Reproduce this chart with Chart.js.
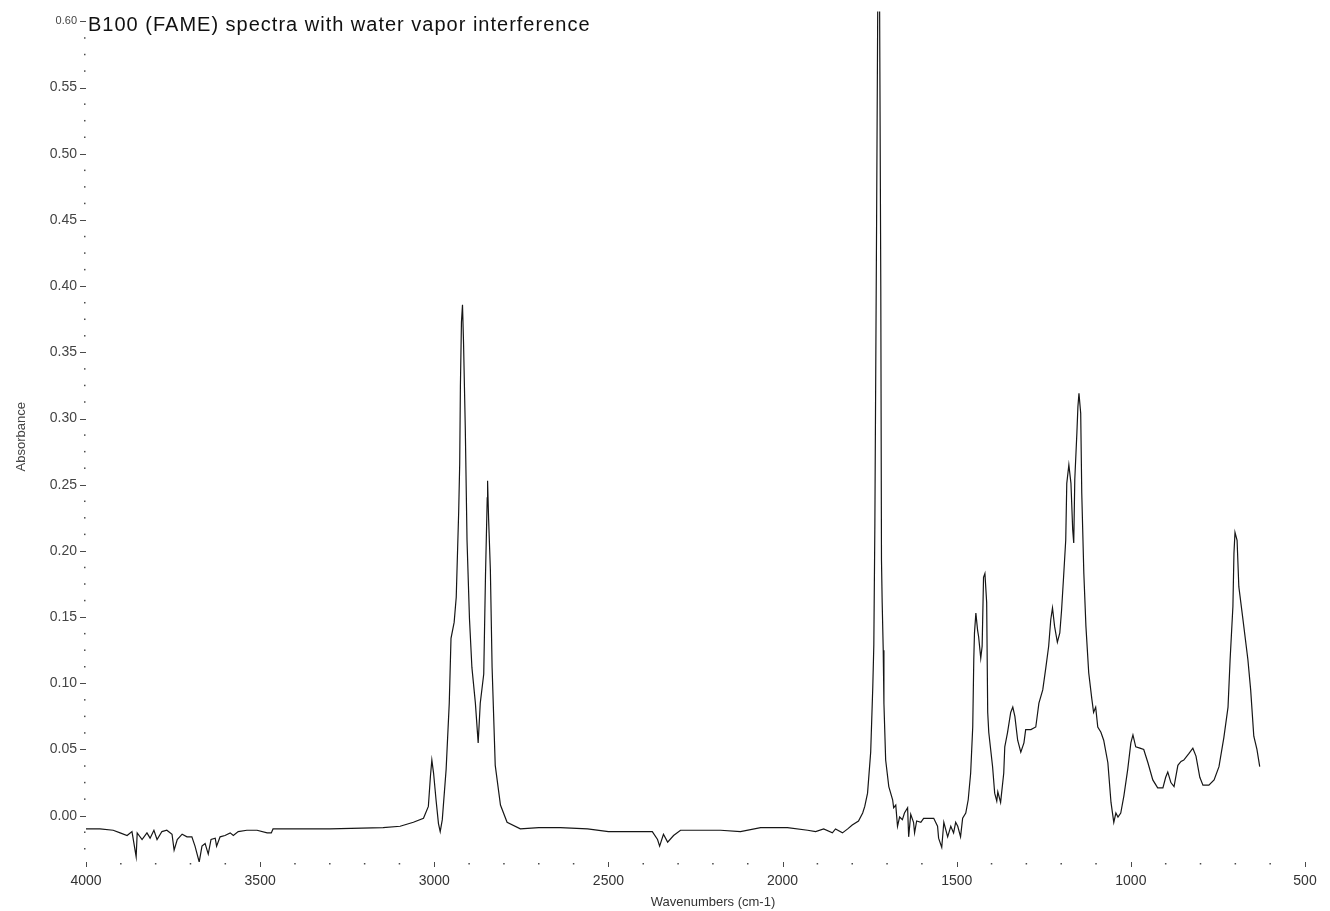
<!DOCTYPE html>
<html>
<head>
<meta charset="utf-8">
<title>B100 (FAME) spectra</title>
<script src="https://cdn.jsdelivr.net/npm/chart.js@4.4.1/dist/chart.umd.min.js"></script>
<style>
  html, body { margin: 0; padding: 0; background: #fff; }
  .chart-box { width: 1330px; height: 911px; position: relative; }
</style>
</head>
<body>
<div class="chart-box"><canvas id="spectrum"></canvas></div>
<script>
// ===================== Data =====================
const wavenumbers = [
  4000, 3960, 3922, 3902, 3882, 3868, 3856, 3853, 3839, 3825, 3816, 3805, 3796, 3782, 3768, 3753,
  3747, 3738, 3724, 3710, 3696, 3687, 3675, 3667, 3658, 3649, 3641, 3629, 3625, 3615, 3601, 3586,
  3577, 3563, 3538, 3509, 3480, 3468, 3463, 3435, 3300, 3147, 3098, 3060, 3031, 3017, 3011, 3007,
  3002, 2995, 2988, 2983, 2977, 2966, 2957, 2952, 2943, 2937, 2930, 2927, 2925, 2922, 2919, 2916,
  2911, 2906, 2899, 2892, 2882, 2874, 2868, 2858, 2853, 2848, 2847, 2844, 2839, 2834, 2825, 2810,
  2791, 2753, 2700, 2676, 2638, 2560, 2500, 2374, 2359, 2353, 2342, 2330, 2313, 2293, 2178, 2121,
  2063, 1986, 1928, 1905, 1882, 1857, 1848, 1828, 1813, 1800, 1782, 1770, 1764, 1756, 1747, 1741,
  1738, 1735, 1730, 1726, 1722, 1718, 1716, 1714, 1711, 1709, 1704, 1695, 1684, 1681, 1675, 1670,
  1664, 1656, 1650, 1641, 1638, 1632, 1624, 1621, 1615, 1603, 1595, 1566, 1555, 1552, 1543, 1537,
  1526, 1517, 1509, 1503, 1497, 1489, 1483, 1474, 1467, 1460, 1454, 1451, 1449, 1445, 1440, 1437,
  1431, 1427, 1423, 1419, 1414, 1411, 1408, 1397, 1391, 1385, 1382, 1374, 1365, 1362, 1354, 1345,
  1339, 1333, 1325, 1316, 1307, 1302, 1287, 1273, 1264, 1253, 1244, 1236, 1230, 1225, 1219, 1211,
  1204, 1199, 1193, 1187, 1184, 1178, 1172, 1167, 1164, 1161, 1155, 1152, 1149, 1144, 1141, 1135,
  1129, 1121, 1112, 1107, 1101, 1095, 1086, 1078, 1066, 1057, 1049, 1043, 1037, 1029, 1020, 1009,
  1000, 994, 986, 974, 963, 951, 937, 923, 908, 900, 894, 885, 876, 865, 856, 848,
  833, 822, 813, 802, 793, 776, 761, 747, 733, 721, 715, 707, 704, 701, 695, 690,
  679, 664, 656, 647, 638, 630
];
const absorbance = [
  -0.010, -0.010, -0.011, -0.013, -0.015, -0.012, -0.031, -0.013, -0.018, -0.013, -0.017, -0.011, -0.018, -0.012, -0.011, -0.014,
  -0.026, -0.018, -0.014, -0.016, -0.016, -0.023, -0.035, -0.023, -0.021, -0.029, -0.018, -0.017, -0.023, -0.016, -0.015, -0.013,
  -0.015, -0.012, -0.011, -0.011, -0.013, -0.013, -0.010, -0.010, -0.010, -0.009, -0.008, -0.005, -0.002, 0.007, 0.030, 0.042,
  0.032, 0.012, -0.006, -0.012, -0.003, 0.035, 0.085, 0.134, 0.146, 0.165, 0.229, 0.266, 0.325, 0.373, 0.386, 0.357,
  0.293, 0.208, 0.149, 0.112, 0.085, 0.055, 0.085, 0.107, 0.181, 0.240, 0.253, 0.224, 0.186, 0.112, 0.038, 0.008,
  -0.005, -0.010, -0.009, -0.009, -0.009, -0.010, -0.012, -0.012, -0.018, -0.023, -0.014, -0.020, -0.015, -0.011, -0.011, -0.012,
  -0.009, -0.009, -0.011, -0.012, -0.010, -0.013, -0.010, -0.013, -0.010, -0.007, -0.004, 0.002, 0.007, 0.017, 0.048, 0.097,
  0.129, 0.220, 0.450, 0.650, 0.650, 0.400, 0.193, 0.161, 0.125, 0.085, 0.042, 0.022, 0.012, 0.006, 0.008, -0.008,
  -0.001, -0.003, 0.002, 0.006, -0.016, 0.001, -0.005, -0.013, -0.004, -0.005, -0.002, -0.002, -0.008, -0.017, -0.024, -0.005,
  -0.016, -0.008, -0.013, -0.005, -0.008, -0.016, -0.002, 0.002, 0.012, 0.032, 0.067, 0.118, 0.138, 0.153, 0.140, 0.135,
  0.119, 0.128, 0.180, 0.183, 0.161, 0.078, 0.063, 0.037, 0.017, 0.011, 0.018, 0.010, 0.032, 0.052, 0.063, 0.078,
  0.082, 0.075, 0.057, 0.048, 0.055, 0.065, 0.065, 0.067, 0.085, 0.095, 0.112, 0.128, 0.148, 0.157, 0.143, 0.131,
  0.138, 0.155, 0.181, 0.208, 0.251, 0.265, 0.251, 0.216, 0.206, 0.254, 0.289, 0.309, 0.319, 0.304, 0.244, 0.183,
  0.143, 0.108, 0.088, 0.078, 0.082, 0.067, 0.063, 0.057, 0.040, 0.010, -0.005, 0.002, -0.001, 0.002, 0.015, 0.035,
  0.055, 0.061, 0.052, 0.051, 0.050, 0.040, 0.027, 0.021, 0.021, 0.029, 0.033, 0.025, 0.022, 0.038, 0.041, 0.042,
  0.047, 0.051, 0.045, 0.029, 0.023, 0.023, 0.027, 0.037, 0.059, 0.082, 0.118, 0.158, 0.198, 0.214, 0.208, 0.173,
  0.150, 0.118, 0.095, 0.060, 0.050, 0.037
];

// axis ticks: labelled majors, dotted minors
const xMajorTicks = [4000, 3500, 3000, 2500, 2000, 1500, 1000, 500];
const xMinorStep = 100;
const yMajorTicks = [0.00, 0.05, 0.10, 0.15, 0.20, 0.25, 0.30, 0.35, 0.40, 0.45, 0.50, 0.55, 0.60];
const yMinorStep = 0.0125;

const chartTitle = 'B100 (FAME) spectra with water vapor interference';
const xAxisTitle = 'Wavenumbers (cm-1)';
const yAxisTitle = 'Absorbance';

const FONT = "'Liberation Sans', Arial, sans-serif";

// ===================== Helpers =====================
function isMajor(value, majors) {
    return majors.some(m => Math.abs(m - value) < 1e-6);
}

function buildTicks(from, to, step) {
    const out = [];
    const n = Math.round((to - from) / step);
    for (let i = 0; i <= n; i++) out.push({ value: +(from + i * step).toFixed(4) });
    return out;
}

// tick dashes + dots, and the overlaid texts
const decorations = {
    id: 'decorations',
    afterDraw(chart) {
        const { ctx, chartArea, scales: { x, y } } = chart;
        ctx.save();
        ctx.fillStyle = '#4a4a4a';
        ctx.strokeStyle = '#4a4a4a';
        ctx.lineWidth = 1;

        y.ticks.forEach(t => {
            const py = y.getPixelForValue(t.value);
            if (isMajor(t.value, yMajorTicks)) {
                ctx.beginPath();
                ctx.moveTo(chartArea.left - 6, Math.round(py) + 0.5);
                ctx.lineTo(chartArea.left, Math.round(py) + 0.5);
                ctx.stroke();
            } else {
                ctx.fillRect(chartArea.left - 2, py - 0.75, 1.5, 1.5);
            }
        });

        x.ticks.forEach(t => {
            const px = x.getPixelForValue(t.value);
            if (isMajor(t.value, xMajorTicks)) {
                ctx.beginPath();
                ctx.moveTo(Math.round(px) + 0.5, chartArea.bottom);
                ctx.lineTo(Math.round(px) + 0.5, chartArea.bottom + 5);
                ctx.stroke();
            } else {
                ctx.fillRect(px - 0.75, chartArea.bottom + 1, 1.5, 1.5);
            }
        });

        // chart title, inside the plot at top left
        ctx.fillStyle = '#111';
        ctx.font = `20px ${FONT}`;
        ctx.letterSpacing = '1px';
        ctx.textAlign = 'left';
        ctx.textBaseline = 'alphabetic';
        ctx.fillText(chartTitle, chartArea.left + 2, 31);
        ctx.letterSpacing = '0px';

        // x axis title
        ctx.fillStyle = '#333';
        ctx.font = `13px ${FONT}`;
        ctx.textAlign = 'center';
        ctx.textBaseline = 'middle';
        ctx.fillText(xAxisTitle, 713, 902);
        ctx.restore();
    }
};

// ===================== Chart Setup =====================
function setupChart() {
    const points = wavenumbers.map((w, i) => ({ x: w, y: absorbance[i] }));

    new Chart(document.getElementById('spectrum').getContext('2d'), {
        type: 'line',
        data: {
            datasets: [{
                label: 'B100',
                data: points,
                borderColor: '#161616',
                borderWidth: 1.2,
                pointRadius: 0,
                tension: 0,
                fill: false
            }]
        },
        options: {
            responsive: true,
            maintainAspectRatio: false,
            animation: false,
            events: [],
            layout: { padding: { top: 11.5, right: 25, left: 0, bottom: 0 } },
            plugins: {
                legend: { display: false },
                tooltip: { enabled: false }
            },
            scales: {
                x: {
                    type: 'linear',
                    reverse: true,
                    min: 500,
                    max: 4000,
                    grid: { display: false },
                    border: { display: false },
                    afterBuildTicks: s => { s.ticks = buildTicks(500, 4000, xMinorStep); },
                    afterFit: s => { s.height = 911 - 862; },
                    ticks: {
                        autoSkip: false,
                        maxRotation: 0,
                        padding: 3,
                        color: '#333',
                        font: { family: FONT, size: 14 },
                        callback: v => isMajor(v, xMajorTicks) ? String(v) : ''
                    }
                },
                y: {
                    min: -0.035,
                    max: 0.6075,
                    grid: { display: false },
                    border: { display: false },
                    afterBuildTicks: s => { s.ticks = buildTicks(-0.025, 0.60, yMinorStep); },
                    afterFit: s => { s.width = 86; },
                    title: {
                        display: true,
                        text: yAxisTitle,
                        color: '#444',
                        font: { family: FONT, size: 13 },
                        padding: { top: 14, bottom: 0 }
                    },
                    ticks: {
                        autoSkip: false,
                        padding: 1,
                        color: '#444',
                        // the top label is printed a bit smaller in the original
                        font: c => ({ family: FONT, size: c.tick && c.tick.value > 0.59 ? 11 : 14 }),
                        callback: v => isMajor(v, yMajorTicks) ? v.toFixed(2) : ''
                    }
                }
            }
        },
        plugins: [decorations]
    });
}

document.addEventListener('DOMContentLoaded', setupChart);
</script>
</body>
</html>
